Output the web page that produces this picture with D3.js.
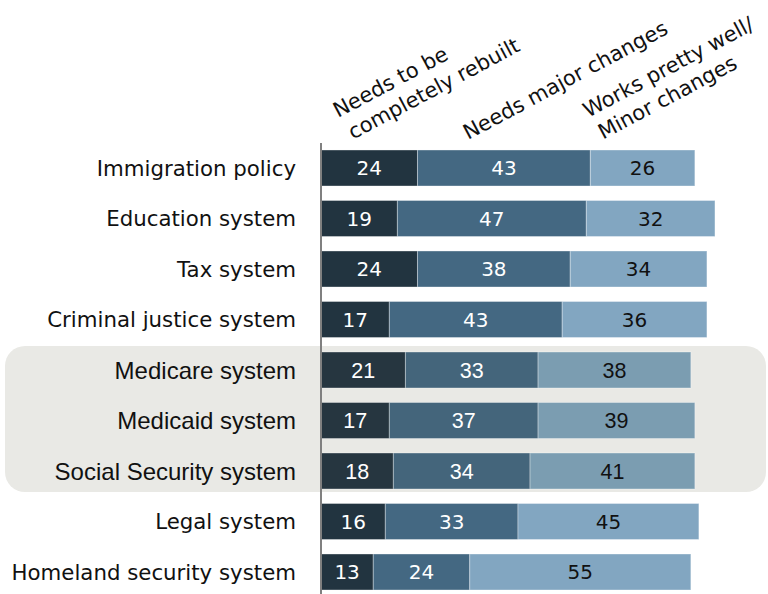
<!DOCTYPE html>
<html>
<head>
<meta charset="utf-8">
<script src="https://cdn.jsdelivr.net/npm/d3@7"></script>
<style>
  html, body { margin: 0; padding: 0; background: #ffffff; }
  svg { display: block; }
</style>
</head>
<body>
<svg id="chart" width="768" height="594"></svg>
<script>
// Opinion of how well each system works (percent of respondents)
const categories = [
  "Immigration policy",
  "Education system",
  "Tax system",
  "Criminal justice system",
  "Medicare system",
  "Medicaid system",
  "Social Security system",
  "Legal system",
  "Homeland security system"
];
const rebuilt = [24, 19, 24, 17, 21, 17, 18, 16, 13];
const majorChanges = [43, 47, 38, 43, 33, 37, 34, 33, 24];
const worksWell = [26, 32, 34, 36, 38, 39, 41, 45, 55];
const highlighted = ["Medicare system", "Medicaid system", "Social Security system"];

const seriesNames = ["rebuilt", "major", "works"];
const headerLines = [
  ["Needs to be", "completely rebuilt"],
  ["Needs major changes"],
  ["Works pretty well/", "Minor changes"]
];

const rows = categories.map((c, i) => ({
  category: c,
  rebuilt: rebuilt[i],
  major: majorChanges[i],
  works: worksWell[i]
}));

const colors = {
  normal: { rebuilt: "#223440", major: "#446882", works: "#82a6c1" },
  hi:     { rebuilt: "#263640", major: "#44657b", works: "#7b9db1" }
};
const textColors = { rebuilt: "#ffffff", major: "#ffffff", works: "#111111" };

const wideFont = "'DejaVu Sans', Verdana, sans-serif";
const narrowFont = "'Liberation Sans Narrow', 'Arial Narrow', sans-serif";

const svg = d3.select("#chart");

const x = d3.scaleLinear().domain([0, 100]).range([321, 723]);
const y = d3.scaleBand()
  .domain(categories)
  .range([142.75, 597.25])
  .paddingInner(0.287)
  .paddingOuter(0.1435);

const stack = d3.stack().keys(seriesNames);
const stacked = stack(rows);

// shaded panel behind the health-care / retirement programs
const hiTop = y(highlighted[0]) - 6;
const hiBottom = y(highlighted[highlighted.length - 1]) + y.bandwidth() + 3;
svg.append("rect")
  .attr("x", 5).attr("y", hiTop)
  .attr("width", 761).attr("height", hiBottom - hiTop)
  .attr("rx", 20).attr("ry", 20)
  .attr("fill", "#e9e9e5");

const isHi = c => highlighted.includes(c);

// stacked bars
const layers = svg.append("g").selectAll("g")
  .data(stacked)
  .join("g");

layers.selectAll("rect")
  .data(s => s.map(d => ({ key: s.key, d })))
  .join("rect")
  .attr("x", o => x(o.d[0]))
  .attr("y", o => y(o.d.data.category))
  .attr("width", o => x(o.d[1]) - x(o.d[0]))
  .attr("height", y.bandwidth())
  .attr("fill", o => (isHi(o.d.data.category) ? colors.hi : colors.normal)[o.key])
  .attr("stroke", "rgba(255,255,255,0.35)")
  .attr("stroke-width", 1);

// value labels
layers.selectAll("text")
  .data(s => s.map(d => ({ key: s.key, d })))
  .join("text")
  .attr("x", o => (x(o.d[0]) + x(o.d[1])) / 2)
  .attr("y", o => y(o.d.data.category) + y.bandwidth() / 2)
  .attr("dy", "0.36em")
  .attr("text-anchor", "middle")
  .attr("fill", o => textColors[o.key])
  .style("font-family", o => isHi(o.d.data.category) ? narrowFont : wideFont)
  .style("font-size", o => isHi(o.d.data.category) ? "21.5px" : "20px")
  .text(o => o.d[1] - o.d[0]);

// category axis
const yAxis = d3.axisLeft(y).tickSize(0).tickPadding(25);
const axisG = svg.append("g")
  .attr("transform", `translate(${x(0)},0)`)
  .call(yAxis);
axisG.select(".domain").remove();
axisG.selectAll(".tick text")
  .attr("fill", "#111111")
  .attr("dy", "0.36em")
  .style("font-family", c => isHi(c) ? narrowFont : wideFont)
  .style("font-size", c => isHi(c) ? "24px" : "21.3px");

// baseline
svg.append("line")
  .attr("x1", x(0)).attr("x2", x(0))
  .attr("y1", 143).attr("y2", 594)
  .attr("stroke", "#808080")
  .attr("stroke-width", 2);

// slanted column headers
const headerAnchors = [[338, 118], [468, 140], [588, 118]];
const headers = svg.append("g")
  .style("font-family", wideFont)
  .style("font-size", "21px")
  .attr("fill", "#111111");
headerLines.forEach((lines, i) => {
  const [hx, hy] = headerAnchors[i];
  const t = headers.append("text")
    .attr("transform", `translate(${hx},${hy}) rotate(-28)`);
  lines.forEach((line, j) => {
    t.append("tspan")
      .attr("x", j * 3)
      .attr("dy", j === 0 ? 0 : "1.25em")
      .text(line);
  });
});
</script>
</body>
</html>
